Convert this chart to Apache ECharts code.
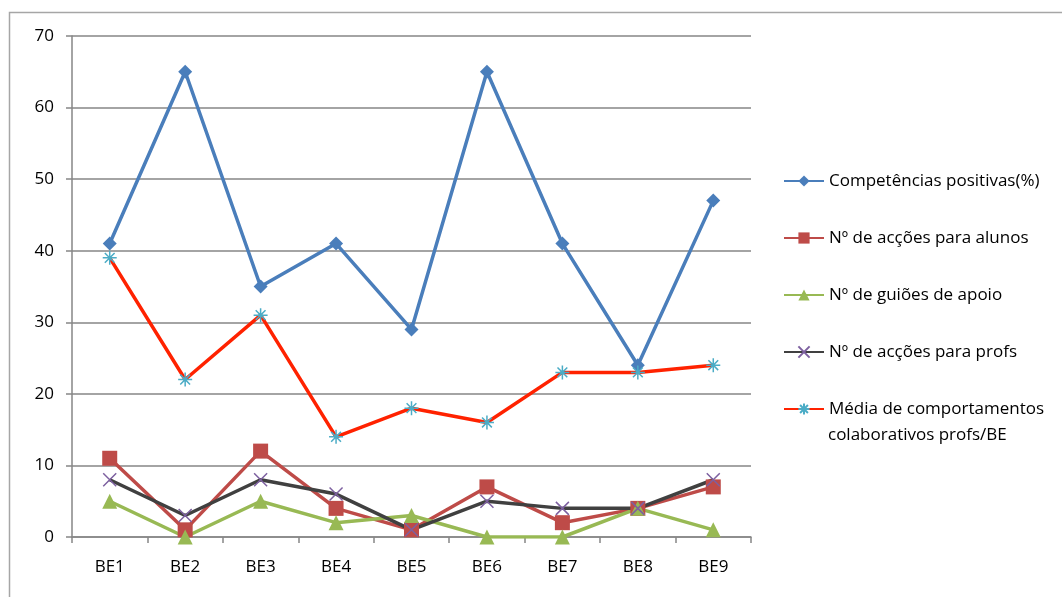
<!DOCTYPE html>
<html>
<head>
<meta charset="utf-8">
<script src="https://cdn.jsdelivr.net/npm/echarts@6/dist/echarts.min.js"></script>
<style>
  html, body { margin: 0; padding: 0; background: #fff; }
  #chart { width: 1062px; height: 597px; }
</style>
</head>
<body>
<div id="chart"></div>
<script>
// categories
var categories = ['BE1', 'BE2', 'BE3', 'BE4', 'BE5', 'BE6', 'BE7', 'BE8', 'BE9']
// series values
var competencias = [41, 65, 35, 41, 29, 65, 41, 24, 47]
var accoesAlunos = [11, 1, 12, 4, 1, 7, 2, 4, 7]
var guioesApoio = [5, 0, 5, 2, 3, 0, 0, 4, 1]
var accoesProfs = [8, 3, 8, 6, 1, 5, 4, 4, 8]
var mediaColab = [39, 22, 31, 14, 18, 16, 23, 23, 24]
var seriesNames = [
  'Competências positivas(%)',
  'Nº de acções para alunos',
  'Nº de guiões de apoio',
  'Nº de acções para profs',
  'Média de comportamentos colaborativos profs/BE'
]
// the last legend entry wraps onto two lines
var lastLines = ['Média de comportamentos', 'colaborativos profs/BE']

var FONT = '"Open Sans", sans-serif'
var crossPath = 'path://M0,0L10,10M10,0L0,10'
var starPath = 'path://M5,0L5,10M0,5L10,5M1.5,1.5L8.5,8.5M8.5,1.5L1.5,8.5'

var chart = echarts.init(document.getElementById('chart'))

function lineSeries(name, data, lineColor, symbol, size, itemStyle) {
  return {
    name: name,
    type: 'line',
    data: data,
    symbol: symbol,
    symbolSize: size,
    showAllSymbol: true,
    lineStyle: { color: lineColor, width: 3.5 },
    itemStyle: itemStyle,
    emphasis: { disabled: true },
    animation: false
  }
}

// one legend per item so every row sits where it does in the picture
var legendTops = [163, 220, 277, 334, 391]
var legends = seriesNames.map(function (n, i) {
  var last = i === seriesNames.length - 1
  return {
    data: [n],
    left: 778,
    top: legendTops[i],
    padding: 5,
    itemWidth: 40,
    itemHeight: 14,
    itemGap: 2,
    selectedMode: false,
    formatter: last ? function () { return lastLines[0] } : '{name}',
    textStyle: { fontFamily: FONT, fontSize: 17, color: '#000', lineHeight: 26 }
  }
})

chart.setOption({
  backgroundColor: '#fff',
  animation: false,
  graphic: [{
    type: 'rect',
    shape: { x: 9.5, y: 12.5, width: 1200, height: 800 },
    style: { fill: 'none', stroke: '#a6a6a6', lineWidth: 1.5 },
    z: -1
  }, {
    type: 'text',
    left: 828,
    top: 427,
    style: { text: lastLines[1], font: '17px ' + FONT, fill: '#000' }
  }],
  legend: legends,
  grid: { left: 72, top: 36, right: 311, bottom: 60 },
  xAxis: {
    type: 'category',
    data: categories,
    boundaryGap: true,
    axisLine: { lineStyle: { color: '#868686', width: 1.5 } },
    axisTick: { show: true, length: 6, lineStyle: { color: '#868686', width: 1.5 } },
    axisLabel: { fontFamily: FONT, fontSize: 17, color: '#000', margin: 22 }
  },
  yAxis: {
    type: 'value',
    min: 0,
    max: 70,
    interval: 10,
    axisLine: { show: true, lineStyle: { color: '#868686', width: 1.5 } },
    axisTick: { show: true, length: 6, lineStyle: { color: '#868686', width: 1.5 } },
    axisLabel: { fontFamily: FONT, fontSize: 17, color: '#000', margin: 18 },
    splitLine: { lineStyle: { color: '#868686', width: 1.5 } }
  },
  series: [
    lineSeries(seriesNames[0], competencias, '#4a7ebb', 'diamond', 14, { color: '#4a7ebb' }),
    lineSeries(seriesNames[1], accoesAlunos, '#be4b48', 'rect', 15, { color: '#be4b48' }),
    lineSeries(seriesNames[2], guioesApoio, '#98b954', 'triangle', 15, { color: '#98b954' }),
    lineSeries(seriesNames[3], accoesProfs, '#404040', crossPath, 13,
      { color: 'none', borderColor: '#7d60a0', borderWidth: 1.5 }),
    lineSeries(seriesNames[4], mediaColab, '#ff2200', starPath, 14,
      { color: 'none', borderColor: '#4bacc6', borderWidth: 1.5 })
  ]
})
</script>
</body>
</html>
